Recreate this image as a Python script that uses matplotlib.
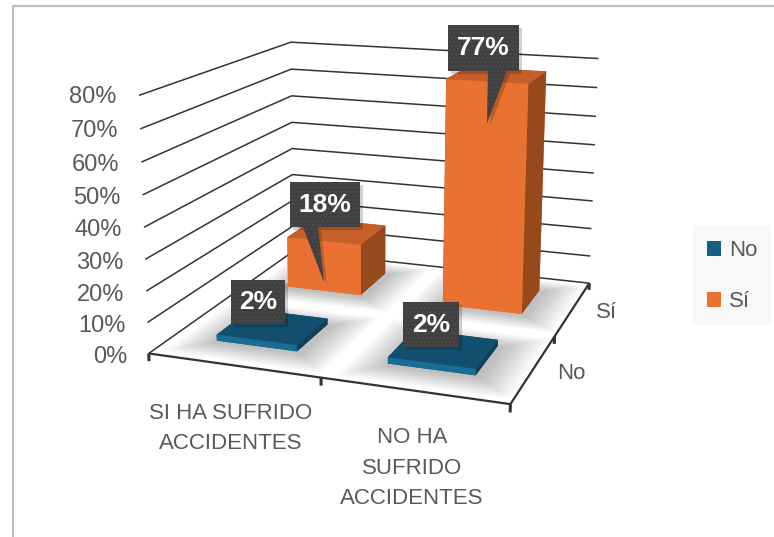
import numpy as np
import matplotlib
matplotlib.use("Agg")
import matplotlib.pyplot as plt
from matplotlib.patches import Patch, Polygon, Rectangle
from mpl_toolkits.mplot3d import proj3d
from mpl_toolkits.mplot3d.art3d import Line3DCollection, Poly3DCollection

plt.rcParams['font.family'] = ['Liberation Sans', 'DejaVu Sans']

categories = ["SI HA SUFRIDO\nACCIDENTES", "NO HA\nSUFRIDO\nACCIDENTES"]
series_names = ["No", "Sí"]
no_values = [2, 2]
si_values = [18, 77]
percent_ticks = [0, 10, 20, 30, 40, 50, 60, 70, 80]

W, H = 774, 537
TEXT = "#595959"
GRID = "#333333"
BLUE = ["#156082", "#124f6e", "#1a6d92", "#124f6e", "#0e4058", "#0e4058"]
ORANGE = ["#e97132", "#c5602a", "#e97132", "#c5602a", "#964a1c", "#964a1c"]

# box corners in the picture, the camera is fitted on them
world = np.array([[0, 0, 0], [2, 0, 0], [2, 2, 0], [0, 2, 0],
                  [0, 0, 80], [0, 2, 80], [2, 2, 80]], dtype=float)
pixel = np.array([[150, 353], [510, 405], [590, 282], [292, 252],
                  [138, 95], [292, 42], [598, 59]], dtype=float)


def fit_camera(world, pixel):
    rows, rhs = [], []
    for (x, y, z), (u, v) in zip(world, pixel):
        rows.append([x, y, z, 1, 0, 0, 0, 0, -u * x, -u * y, -u * z])
        rows.append([0, 0, 0, 0, x, y, z, 1, -v * x, -v * y, -v * z])
        rhs += [u, v]
    p = np.linalg.lstsq(np.array(rows), np.array(rhs), rcond=None)[0]
    w_row = np.append(p[8:11], 1.0)
    # third row only gives the depth order
    return np.array([p[:4], p[4:8], w_row - [0, 0, 0, 0.5], w_row])


fig = plt.figure(figsize=(W / 100, H / 100), dpi=100, facecolor="white")

# mplot3d forces a square axes, so make it square and let it run off the figure
ax = fig.add_axes([0, -(W - H) / 2 / H, 1, W / H], projection="3d")
ax.set_axis_off()
ax.patch.set_visible(False)
ax.computed_zorder = False
camera = fit_camera(world, pixel)
ax.get_proj = lambda: camera
ax.viewLim.intervalx = (0, W)
ax.viewLim.intervaly = (H + (W - H) / 2, -(W - H) / 2)


def floor_rect(x0, y0, x1, y1, **kw):
    rect = [[(x0, y0, 0), (x1, y0, 0), (x1, y1, 0), (x0, y1, 0)]]
    return ax.add_collection3d(Poly3DCollection(rect, **kw))


def add_lines(segments, lw, zorder):
    ax.add_collection3d(Line3DCollection(segments, colors=GRID, linewidths=lw, zorder=zorder))


floor_rect(0, 0, 2, 2, facecolor="white", edgecolor="none", zorder=1)

# wall lines
add_lines([[(0, 0, z), (0, 2, z), (2, 2, z)] for z in percent_ticks], 1.1, 2)

# front and right edges of the floor with their ticks
add_lines([[(0, 0, 0), (2, 0, 0)], [(2, 0, 0), (2, 2, 0)]], 1.6, 3)
ticks = [[(x, 0, 0), (x, 0, -2.5)] for x in [0, 1, 2]]
ticks += [[(2, y, 0), (2, y, -2.5)] for y in [1, 2]]
add_lines(ticks, 2.2, 3)

# bars, the back row first
bar_w = 0.48
bar_d = 0.45
for row, (values, faces) in reversed(list(enumerate(zip([no_values, si_values], [BLUE, ORANGE])))):
    for col, value in enumerate(values):
        x0, y0 = col + 0.26, row + 0.3
        for grow in np.arange(0.22, 0, -0.02):
            floor_rect(x0 - grow + 0.02, y0 - grow - 0.02, x0 + bar_w + grow + 0.02, y0 + bar_d + grow - 0.02,
                       facecolor="black", alpha=0.024, edgecolor="none", zorder=4)
        bars = ax.bar3d(x0, y0, 0, bar_w, bar_d, value, color=faces, shade=False)
        bars.set_zorder(5 + (1 - row))

# flat layer on top for frame, labels, callouts and legend
top = fig.add_axes([0, 0, 1, 1])
top.set_xlim(0, W)
top.set_ylim(H, 0)
top.set_axis_off()
top.patch.set_visible(False)


def to_pixel(x, y, z):
    px, py, _ = proj3d.proj_transform(x, y, z, camera)
    return float(px), float(py)


# axis labels
for z in percent_ticks:
    px, py = to_pixel(-0.08, -0.09, z)
    top.text(px, py, f"{z}%", ha="right", va="center", fontsize=17, color=TEXT, zorder=8)
for name, lx, ly in zip(categories, [0.70, 1.63], [-0.45, -0.42]):
    px, py = to_pixel(lx, ly, 0)
    top.text(px, py, name, ha="center", va="top", fontsize=16, color=TEXT,
             linespacing=1.6, zorder=8)
for j, name in enumerate(series_names):
    px, py = to_pixel(2.2, j + 0.5, 0)
    top.text(px, py, name, ha="center", va="center", fontsize=16, color=TEXT, zorder=8)

top.plot([12.5, 12.5, W], [H, 6, 6], color="#bfbfbf", lw=1.6, zorder=1)

# label boxes: left, top, right, bottom, then pointer base and tip
value_labels = [no_values[0], si_values[0], no_values[1], si_values[1]]
boxes = [(231, 280, 285, 324), (290, 182, 360, 227), (403, 302, 459, 347), (448, 25, 519, 71)]
pointers = [None, (303, 318, 324, 282), None, (488, 507, 487, 123)]
for value, (x0, y0, x1, y1), ptr in zip(value_labels, boxes, pointers):
    pts = [(x0, y0), (x1, y0), (x1, y1)]
    if ptr:
        pts += [(ptr[1], y1), (ptr[2], ptr[3]), (ptr[0], y1)]
    pts += [(x0, y1)]
    shade = np.array(pts) + 3
    top.add_patch(Polygon(shade, closed=True, facecolor="black", alpha=0.18,
                          edgecolor="none", zorder=4))
    top.add_patch(Polygon(pts, closed=True, facecolor="#404040", edgecolor="#4c4c4c",
                          lw=0, hatch="....", zorder=5))
    top.text((x0 + x1) / 2, (y0 + y1) / 2, f"{value}%", ha="center", va="center",
             color="white", fontsize=19, fontweight="bold", zorder=6)

top.add_patch(Rectangle((693, 225), 78, 100, facecolor="#f8f8f8", edgecolor="none", zorder=2))
handles = [Patch(facecolor=BLUE[0], label=series_names[0]),
           Patch(facecolor=ORANGE[0], label=series_names[1])]
leg = top.legend(handles=handles, loc="center left", bbox_to_anchor=(707 / W, 1 - 276 / H),
                 bbox_transform=fig.transFigure, frameon=False, fontsize=16, labelcolor=TEXT,
                 handlelength=0.64, handleheight=0.64, handletextpad=0.36, labelspacing=1.35,
                 borderpad=0, borderaxespad=0)
leg.set_zorder(3)

fig.savefig("out.png", dpi=100)
